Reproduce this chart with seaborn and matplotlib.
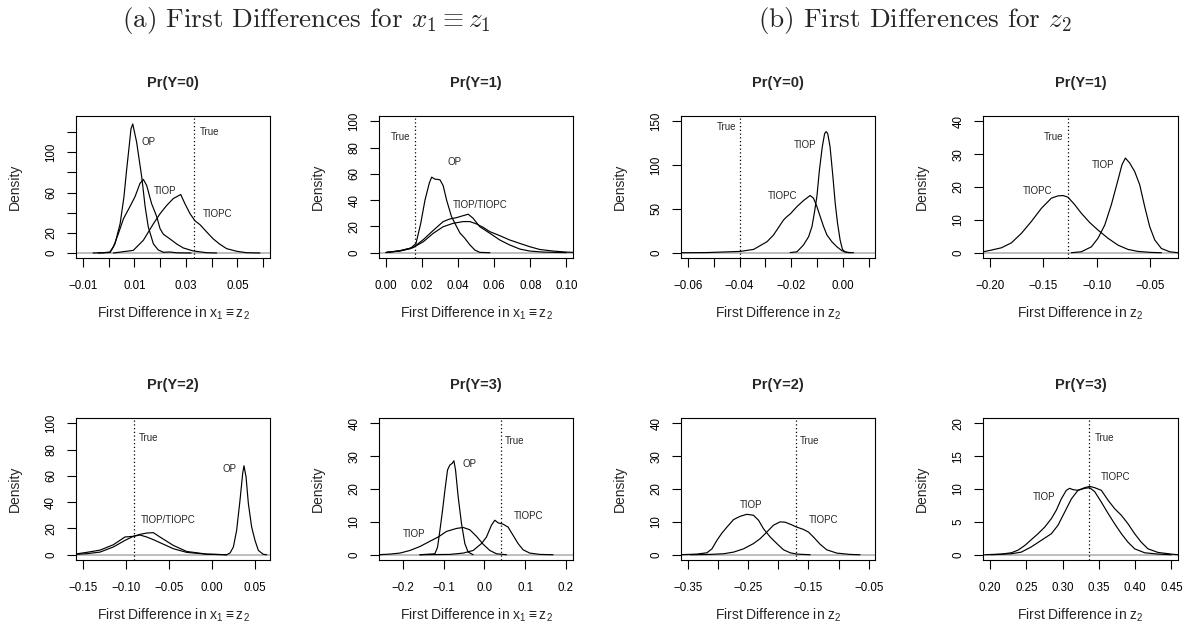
"""
First differences of predicted probabilities: density plots
(a) x1 = z1 and (b) z2, one panel for each outcome category.
"""
import matplotlib
matplotlib.use("Agg")
import matplotlib.pyplot as plt
import seaborn as sns

# ------------------------------------------------------------------
# Data
# ------------------------------------------------------------------
# (a) Pr(Y=0)
a0_op_x = [-0.006, -0.002, 0.0006, 0.0025, 0.0045, 0.0060, 0.0070, 0.0081, 0.0087, 0.0094,
           0.0109, 0.0129, 0.0142, 0.0154, 0.0174, 0.0193, 0.0213, 0.0238, 0.0264, 0.032]
a0_op_y = [0, 0.3, 1, 9, 29, 56, 82, 108, 123, 128, 110, 75, 46, 26, 9, 3, 0.7, 1, 0.2, 0]
a0_tiop_x = [-0.004, 0.0006, 0.0019, 0.0038, 0.0058, 0.0083, 0.0103, 0.0122, 0.0135, 0.0148,
             0.0167, 0.0187, 0.0200, 0.0213, 0.0238, 0.0264, 0.0290, 0.0329, 0.0380, 0.0419]
a0_tiop_y = [0, 0.5, 6, 19, 34, 46, 56, 69, 73, 67, 49, 36, 24, 18.5, 14, 9, 5, 2, 0.3, 0]
a0_tiopc_x = [0.0019, 0.0096, 0.0135, 0.0174, 0.0200, 0.0225, 0.0251, 0.0280, 0.0296, 0.0316,
              0.0335, 0.0355, 0.0380, 0.0406, 0.0432, 0.0458, 0.0497, 0.0535, 0.0587]
a0_tiopc_y = [0, 2.6, 12.6, 29, 39, 47, 54, 58, 49, 39, 32, 28, 21, 14, 8.6, 4.3, 1.7, 0.3, 0]
a0_true = 0.0333

# (a) Pr(Y=1)
a1_op_x = [0, 0.0077, 0.0133, 0.0166, 0.0192, 0.0216, 0.0240, 0.0253, 0.0271, 0.0299,
           0.0317, 0.0336, 0.0363, 0.0391, 0.0410, 0.0437, 0.0465, 0.0493, 0.0520, 0.0576]
a1_op_y = [0.2, 1.3, 3, 7, 22, 40, 53, 57.5, 56, 55.5, 51, 40, 27.5, 20, 15, 11, 6, 2, 0.3, 0]
a1_tiop_x = [0, 0.0077, 0.0151, 0.0207, 0.0262, 0.0317, 0.0354, 0.0391, 0.0428, 0.0456,
             0.0483, 0.0520, 0.0576, 0.0631, 0.0686, 0.0742, 0.0797, 0.0871, 0.1]
a1_tiop_y = [0.2, 1.5, 4, 10, 17, 23.7, 25.7, 26.7, 28.2, 29.3, 26.2, 19.8, 14.8, 9.7, 5.9,
             2.8, 1.3, 0.5, 0.1]
a1_tiopc_x = [0, 0.0077, 0.0151, 0.0207, 0.0262, 0.0317, 0.0373, 0.0428, 0.0465, 0.0502,
              0.0539, 0.0576, 0.0631, 0.0686, 0.0742, 0.0797, 0.0852, 0.0926, 0.1, 0.1037]
a1_tiopc_y = [0.2, 1.5, 4, 8.4, 14.8, 19.8, 22.4, 23.7, 23.7, 21.9, 19.3, 16, 13, 9.7, 7.1,
              4.6, 2.5, 1.3, 0.5, 0.3]
a1_true = 0.0162

# (a) Pr(Y=2)
a2_op_x = [0.0171, 0.0210, 0.0249, 0.0287, 0.0326, 0.0357, 0.0372, 0.0396, 0.0423, 0.0461,
           0.05, 0.0539, 0.0597, 0.0635]
a2_op_y = [0, 1.3, 5.9, 18.6, 41.5, 61.8, 67.7, 59.3, 38.9, 21.1, 10.9, 3.3, 0.3, 0]
a2_wide_x = [-0.1608, -0.1454, -0.1299, -0.1144, -0.1009, -0.0912, -0.0835, -0.0757, -0.068,
             -0.0603, -0.0448, -0.0293, -0.0061, 0.0171]
a2_tiop_y = [0.3, 1.8, 3.5, 7.6, 13.5, 14, 15, 13.5, 11.5, 9.2, 4.6, 1.8, 0.4, 0]
a2_tiopc_y = [0.2, 0.8, 2, 5.9, 10.9, 14, 15.5, 16.5, 16.8, 13.5, 7.1, 2.5, 0.5, 0]
a2_true = -0.090

# (a) Pr(Y=3)
a3_op_x = [-0.159, -0.1221, -0.1156, -0.1098, -0.1033, -0.0975, -0.091, -0.0852, -0.0795,
           -0.0754, -0.0713, -0.0648, -0.0566, -0.0484, -0.0402, -0.0279]
a3_op_y = [0, 0.3, 2.3, 7.4, 13.5, 19.6, 25.8, 27.3, 27.8, 28.6, 25.8, 17.6, 9.5, 3.4, 0.8, 0]
a3_tiop_x = [-0.2615, -0.2328, -0.2082, -0.1836, -0.159, -0.1344, -0.1139, -0.0934, -0.0689,
             -0.0525, -0.0361, -0.0197, -0.0033, 0.0131, 0.0295, 0.0541]
a3_tiop_y = [0, 0.2, 0.5, 1.3, 2.5, 4.1, 5.4, 7.1, 8, 8.3, 7.6, 5.6, 3.2, 1.3, 0.3, 0]
a3_tiopc_x = [-0.159, -0.0852, -0.0525, -0.0279, -0.0074, 0.0049, 0.0172, 0.0254, 0.0336,
              0.0459, 0.0582, 0.0705, 0.0828, 0.0951, 0.1115, 0.1361, 0.1689]
a3_tiopc_y = [0, 0.1, 0.5, 1.3, 3.4, 5.4, 9, 10.5, 9.7, 9.3, 8.4, 5.9, 3.4, 1.5, 0.5, 0.1, 0]
a3_true = 0.0402

# (b) Pr(Y=0)
b0_tiopc_x = [-0.0627, -0.0527, -0.0398, -0.0346, -0.0294, -0.0269, -0.0243, -0.0230, -0.0217,
              -0.0204, -0.0178, -0.0153, -0.0127, -0.0114, -0.0101, -0.0088, -0.0075, -0.0062,
              -0.0043, -0.0024, -0.0004, 0.0015, 0.0041]
b0_tiopc_y = [0, 0.2, 1.5, 3.8, 12.6, 20.2, 31.7, 37.4, 41.2, 44.3, 52.7, 59.5, 65.3, 62.2,
              52.7, 41.2, 29.8, 20.2, 12.6, 6.9, 2.3, 0.4, 0]
b0_tiop_x = [-0.0204, -0.0178, -0.0153, -0.0133, -0.0120, -0.0111, -0.0101, -0.0091, -0.0080,
             -0.0071, -0.0065, -0.0059, -0.0050, -0.0039, -0.0030, -0.0021, -0.0011, -0.0002,
             0.0008, 0.0028]
b0_tiop_y = [0.2, 1.1, 8.8, 18.3, 29.8, 45, 64, 94.7, 121, 135.9, 138.2, 135.9, 121, 87, 56.5,
             33.6, 14.5, 3.8, 0.8, 0]
b0_true = -0.040

# (b) Pr(Y=1)
b1_tiopc_x = [-0.2063, -0.1988, -0.1894, -0.18, -0.1706, -0.1613, -0.1519, -0.1425, -0.1363,
              -0.1316, -0.1269, -0.1206, -0.1144, -0.1066, -0.0988, -0.0894, -0.08, -0.0706,
              -0.0613, -0.0488, -0.0394]
b1_tiopc_y = [0.3, 0.8, 1.5, 3, 5.9, 9.5, 13.5, 16.6, 17.3, 17.4, 16.9, 14.6, 12, 9.2, 6.9,
              4.4, 2.3, 1, 0.4, 0.1, 0]
b1_tiop_x = [-0.1238, -0.1144, -0.105, -0.0988, -0.0925, -0.0863, -0.08, -0.0763, -0.0731,
             -0.0691, -0.0644, -0.0597, -0.055, -0.0503, -0.0456, -0.0394, -0.0316, -0.0238]
b1_tiop_y = [0, 0.3, 1.8, 4.4, 8.4, 14.6, 22.2, 26.8, 28.8, 27.3, 24.7, 20.7, 14, 7.9, 3.9,
             1.3, 0.3, 0]
b1_true = -0.1269

# (b) Pr(Y=2)
b2_tiop_x = [-0.3627, -0.3351, -0.3185, -0.3102, -0.3019, -0.2936, -0.2854, -0.2743, -0.2633,
             -0.2522, -0.2412, -0.2329, -0.2246, -0.2135, -0.2025, -0.1914, -0.1804, -0.1693,
             -0.1472]
b2_tiop_y = [0, 0.2, 0.6, 1.8, 4.4, 6.6, 8.4, 10.7, 11.7, 12.3, 12, 10.5, 7.9, 5.4, 3.4, 1.5,
             0.6, 0.2, 0]
b2_tiopc_x = [-0.3461, -0.313, -0.2909, -0.2743, -0.2577, -0.2412, -0.2301, -0.2191, -0.208,
              -0.197, -0.1887, -0.1804, -0.1693, -0.1583, -0.15, -0.1417, -0.1307, -0.1196,
              -0.103, -0.0809, -0.0644]
b2_tiopc_y = [0, 0.1, 0.3, 0.8, 1.8, 3.4, 4.9, 6.9, 9, 10, 9.9, 9.3, 8.4, 7.7, 6.9, 5.4, 3.2,
              1.5, 0.5, 0.1, 0]
b2_true = -0.171

# (b) Pr(Y=3)
b3_tiop_x = [0.1926, 0.2156, 0.2294, 0.2386, 0.2478, 0.2570, 0.2662, 0.2754, 0.2846, 0.2915,
             0.2983, 0.3052, 0.3098, 0.3144, 0.3213, 0.3305, 0.3374, 0.3443, 0.3535, 0.3627,
             0.3719, 0.3811, 0.3903, 0.3994, 0.4132, 0.4316, 0.45]
b3_tiop_y = [0, 0.1, 0.3, 0.7, 1.4, 2.3, 3.2, 4.2, 5.5, 6.8, 8.5, 9.8, 10.1, 9.9, 9.8, 10.1,
             10.2, 9.6, 8, 6.3, 4.7, 3.2, 1.9, 0.9, 0.3, 0.1, 0]
b3_tiopc_x = [0.2018, 0.2294, 0.2432, 0.2570, 0.2708, 0.2846, 0.2938, 0.3030, 0.3122, 0.3213,
              0.3305, 0.3374, 0.3443, 0.3535, 0.3627, 0.3719, 0.3811, 0.3903, 0.3994, 0.4086,
              0.4178, 0.4316, 0.45, 0.4592]
b3_tiopc_y = [0, 0.15, 0.4, 1.2, 2.2, 3.2, 4.5, 6.5, 8.5, 9.8, 10.2, 10.4, 10.2, 9.8, 8.3, 7,
              6, 4.7, 3.2, 1.9, 0.9, 0.35, 0.1, 0]
b3_true = 0.3365

titles = ["Pr(Y=0)", "Pr(Y=1)", "Pr(Y=0)", "Pr(Y=1)",
          "Pr(Y=2)", "Pr(Y=3)", "Pr(Y=2)", "Pr(Y=3)"]
xlab_a = r"First Difference in $\mathregular{x_1 \equiv z_2}$"
xlab_b = r"First Difference in $\mathregular{z_2}$"
head_a = r"(a) First Differences for $x_1 \equiv z_1$"
head_b = r"(b) First Differences for $z_2$"

# ------------------------------------------------------------------
# Panel layout (figure pixels: left, top, right, bottom) and axes
# ------------------------------------------------------------------
W, H = 1185, 633
cols = [(76, 270), (379, 573), (681, 875), (983, 1178)]
rows = [(116, 258), (418, 560)]


def rect(col, row):
    l, r = cols[col]
    t, b = rows[row]
    return [l / W, 1 - b / H, (r - l) / W, (b - t) / H]


def labs(ticks, shown, fmt):
    out = []
    for t in ticks:
        s = fmt.format(t) if any(abs(t - v) < 1e-9 for v in shown) else ""
        out.append(s.replace("-", "\u2212"))
    return out


panels = [
    dict(pos=(0, 0), curves=[(a0_op_x, a0_op_y), (a0_tiop_x, a0_tiop_y), (a0_tiopc_x, a0_tiopc_y)],
         true=a0_true, xlim=(-0.0126, 0.0626), ylim=(-4.96, 135.9),
         xt=[-0.01, 0, 0.01, 0.02, 0.03, 0.04, 0.05, 0.06], xs=[-0.01, 0.01, 0.03, 0.05], xf="{:.2f}",
         yt=[0, 20, 40, 60, 80, 100, 120], ys=[0, 20, 60, 100],
         notes=[("OP", 0.0154, 110), ("TIOP", 0.0219, 61.5), ("TIOPC", 0.0424, 38.4), ("True", 0.0393, 120)],
         xlabel=xlab_a),
    dict(pos=(1, 0), curves=[(a1_op_x, a1_op_y), (a1_tiop_x, a1_tiop_y), (a1_tiopc_x, a1_tiopc_y)],
         true=a1_true, xlim=(-0.0039, 0.1037), ylim=(-4, 104),
         xt=[0, 0.02, 0.04, 0.06, 0.08, 0.10], xs=[0, 0.02, 0.04, 0.06, 0.08, 0.10], xf="{:.2f}",
         yt=[0, 20, 40, 60, 80, 100], ys=[0, 20, 40, 60, 80, 100],
         notes=[("True", 0.0079, 87.8), ("OP", 0.0378, 68.7), ("TIOP/TIOPC", 0.0522, 36.4)],
         xlabel=xlab_a),
    dict(pos=(2, 0), curves=[(b0_tiopc_x, b0_tiopc_y), (b0_tiop_x, b0_tiop_y)],
         true=b0_true, xlim=(-0.0627, 0.0124), ylim=(-6, 156),
         xt=[-0.06, -0.05, -0.04, -0.03, -0.02, -0.01, 0, 0.01], xs=[-0.06, -0.04, -0.02, 0], xf="{:.2f}",
         yt=[0, 50, 100, 150], ys=[0, 50, 100, 150],
         notes=[("True", -0.0452, 143), ("TIOP", -0.0146, 123), ("TIOPC", -0.0233, 65)],
         xlabel=xlab_b),
    dict(pos=(3, 0), curves=[(b1_tiopc_x, b1_tiopc_y), (b1_tiop_x, b1_tiop_y)],
         true=b1_true, xlim=(-0.2066, -0.0238), ylim=(-1.6, 41.6),
         xt=[-0.20, -0.15, -0.10, -0.05], xs=[-0.20, -0.15, -0.10, -0.05], xf="{:.2f}",
         yt=[0, 10, 20, 30, 40], ys=[0, 10, 20, 30, 40],
         notes=[("True", -0.1403, 35.1), ("TIOP", -0.0941, 26.8), ("TIOPC", -0.155, 18.9)],
         xlabel=xlab_b),
    dict(pos=(0, 1), curves=[(a2_wide_x, a2_tiop_y), (a2_wide_x, a2_tiopc_y), (a2_op_x, a2_op_y)],
         true=a2_true, xlim=(-0.1577, 0.0674), ylim=(-4, 104),
         xt=[-0.15, -0.10, -0.05, 0, 0.05], xs=[-0.15, -0.10, -0.05, 0, 0.05], xf="{:.2f}",
         yt=[0, 20, 40, 60, 80, 100], ys=[0, 20, 40, 60, 80, 100],
         notes=[("True", -0.0738, 88.5), ("OP", 0.0206, 64.9), ("TIOP/TIOPC", -0.0506, 26.2)],
         xlabel=xlab_a),
    dict(pos=(1, 1), curves=[(a3_tiop_x, a3_tiop_y), (a3_op_x, a3_op_y), (a3_tiopc_x, a3_tiopc_y)],
         true=a3_true, xlim=(-0.2598, 0.218), ylim=(-1.6, 41.6),
         xt=[-0.2, -0.1, 0, 0.1, 0.2], xs=[-0.2, -0.1, 0, 0.1, 0.2], xf="{:.1f}",
         yt=[0, 10, 20, 30, 40], ys=[0, 10, 20, 30, 40],
         notes=[("True", 0.0730, 34.7), ("OP", -0.0369, 27.5), ("TIOPC", 0.1074, 11.8), ("TIOP", -0.1746, 6.4)],
         xlabel=xlab_a),
    dict(pos=(2, 1), curves=[(b2_tiop_x, b2_tiop_y), (b2_tiopc_x, b2_tiopc_y)],
         true=b2_true, xlim=(-0.3616, -0.0395), ylim=(-1.6, 41.6),
         xt=[-0.35, -0.30, -0.25, -0.20, -0.15, -0.10, -0.05], xs=[-0.35, -0.25, -0.15, -0.05], xf="{:.2f}",
         yt=[0, 10, 20, 30, 40], ys=[0, 10, 20, 30, 40],
         notes=[("True", -0.1483, 34.7), ("TIOP", -0.245, 15.1), ("TIOPC", -0.1251, 10.5)],
         xlabel=xlab_b),
    dict(pos=(3, 1), curves=[(b3_tiop_x, b3_tiop_y), (b3_tiopc_x, b3_tiopc_y)],
         true=b3_true, xlim=(0.1903, 0.4592), ylim=(-0.8, 20.8),
         xt=[0.20, 0.25, 0.30, 0.35, 0.40, 0.45], xs=[0.20, 0.25, 0.30, 0.35, 0.40, 0.45], xf="{:.2f}",
         yt=[0, 5, 10, 15, 20], ys=[0, 5, 10, 15, 20],
         notes=[("True", 0.3585, 17.8), ("TIOP", 0.2749, 8.8), ("TIOPC", 0.3733, 11.9)],
         xlabel=xlab_b),
]

# ------------------------------------------------------------------
# Figure
# ------------------------------------------------------------------
sns.set_theme(style="ticks")
plt.rcParams["font.family"] = ["Liberation Sans", "DejaVu Sans"]
plt.rcParams["mathtext.fontset"] = "dejavusans"

fig = plt.figure(figsize=(W / 100, H / 100), dpi=100)
fig.patch.set_facecolor("white")

for p, title in zip(panels, titles):
    col, row = p["pos"]
    ax = fig.add_axes(rect(col, row))
    ax.set_facecolor("white")
    ax.axhline(0, color="#bebebe", lw=1.4, zorder=1)
    for cx, cy in p["curves"]:
        sns.lineplot(x=cx, y=cy, ax=ax, color="black", lw=0.85,
                     estimator=None, sort=False, zorder=2)
    ax.axvline(p["true"], color="black", ls=(0, (1, 2)), lw=0.9, zorder=2)

    ax.set_xlim(*p["xlim"])
    ax.set_ylim(*p["ylim"])
    ax.set_xticks(p["xt"], labels=labs(p["xt"], p["xs"], p["xf"]))
    ax.set_yticks(p["yt"], labels=labs(p["yt"], p["ys"], "{:g}"))
    ax.tick_params(axis="both", direction="out", length=6.5, width=0.8,
                   labelsize=8.3, color="black", labelcolor="black")
    ax.tick_params(axis="x", pad=9)
    ax.tick_params(axis="y", labelrotation=90, pad=7)
    for lab in ax.get_yticklabels():
        lab.set_va("center")
    for s in ax.spines.values():
        s.set_visible(True)
        s.set_color("black")
        s.set_linewidth(0.8)
    ax.set_xlabel("")
    ax.set_ylabel("")

    hpx = rows[row][1] - rows[row][0]
    wpx = cols[col][1] - cols[col][0]
    ax.text(0.5, 1 + 33 / hpx, title, transform=ax.transAxes, ha="center", va="center",
            fontsize=10.5, fontweight="bold")
    ax.text(-61 / wpx, 0.5, "Density", transform=ax.transAxes, rotation=90,
            ha="center", va="center", fontsize=10)
    ax.text(0.5, -55 / hpx, p["xlabel"], transform=ax.transAxes,
            ha="center", va="center", fontsize=10)
    for txt, tx, ty in p["notes"]:
        ax.text(tx, ty, txt, ha="center", va="center", fontsize=7)

fig.text(306 / W, 1 - 21 / H, head_a, ha="center", va="center", fontsize=19.5,
         family="cmr10", math_fontfamily="cm")
fig.text(915 / W, 1 - 21 / H, head_b, ha="center", va="center", fontsize=19.5,
         family="cmr10", math_fontfamily="cm")

fig.savefig("out.png", dpi=100, facecolor="white")
